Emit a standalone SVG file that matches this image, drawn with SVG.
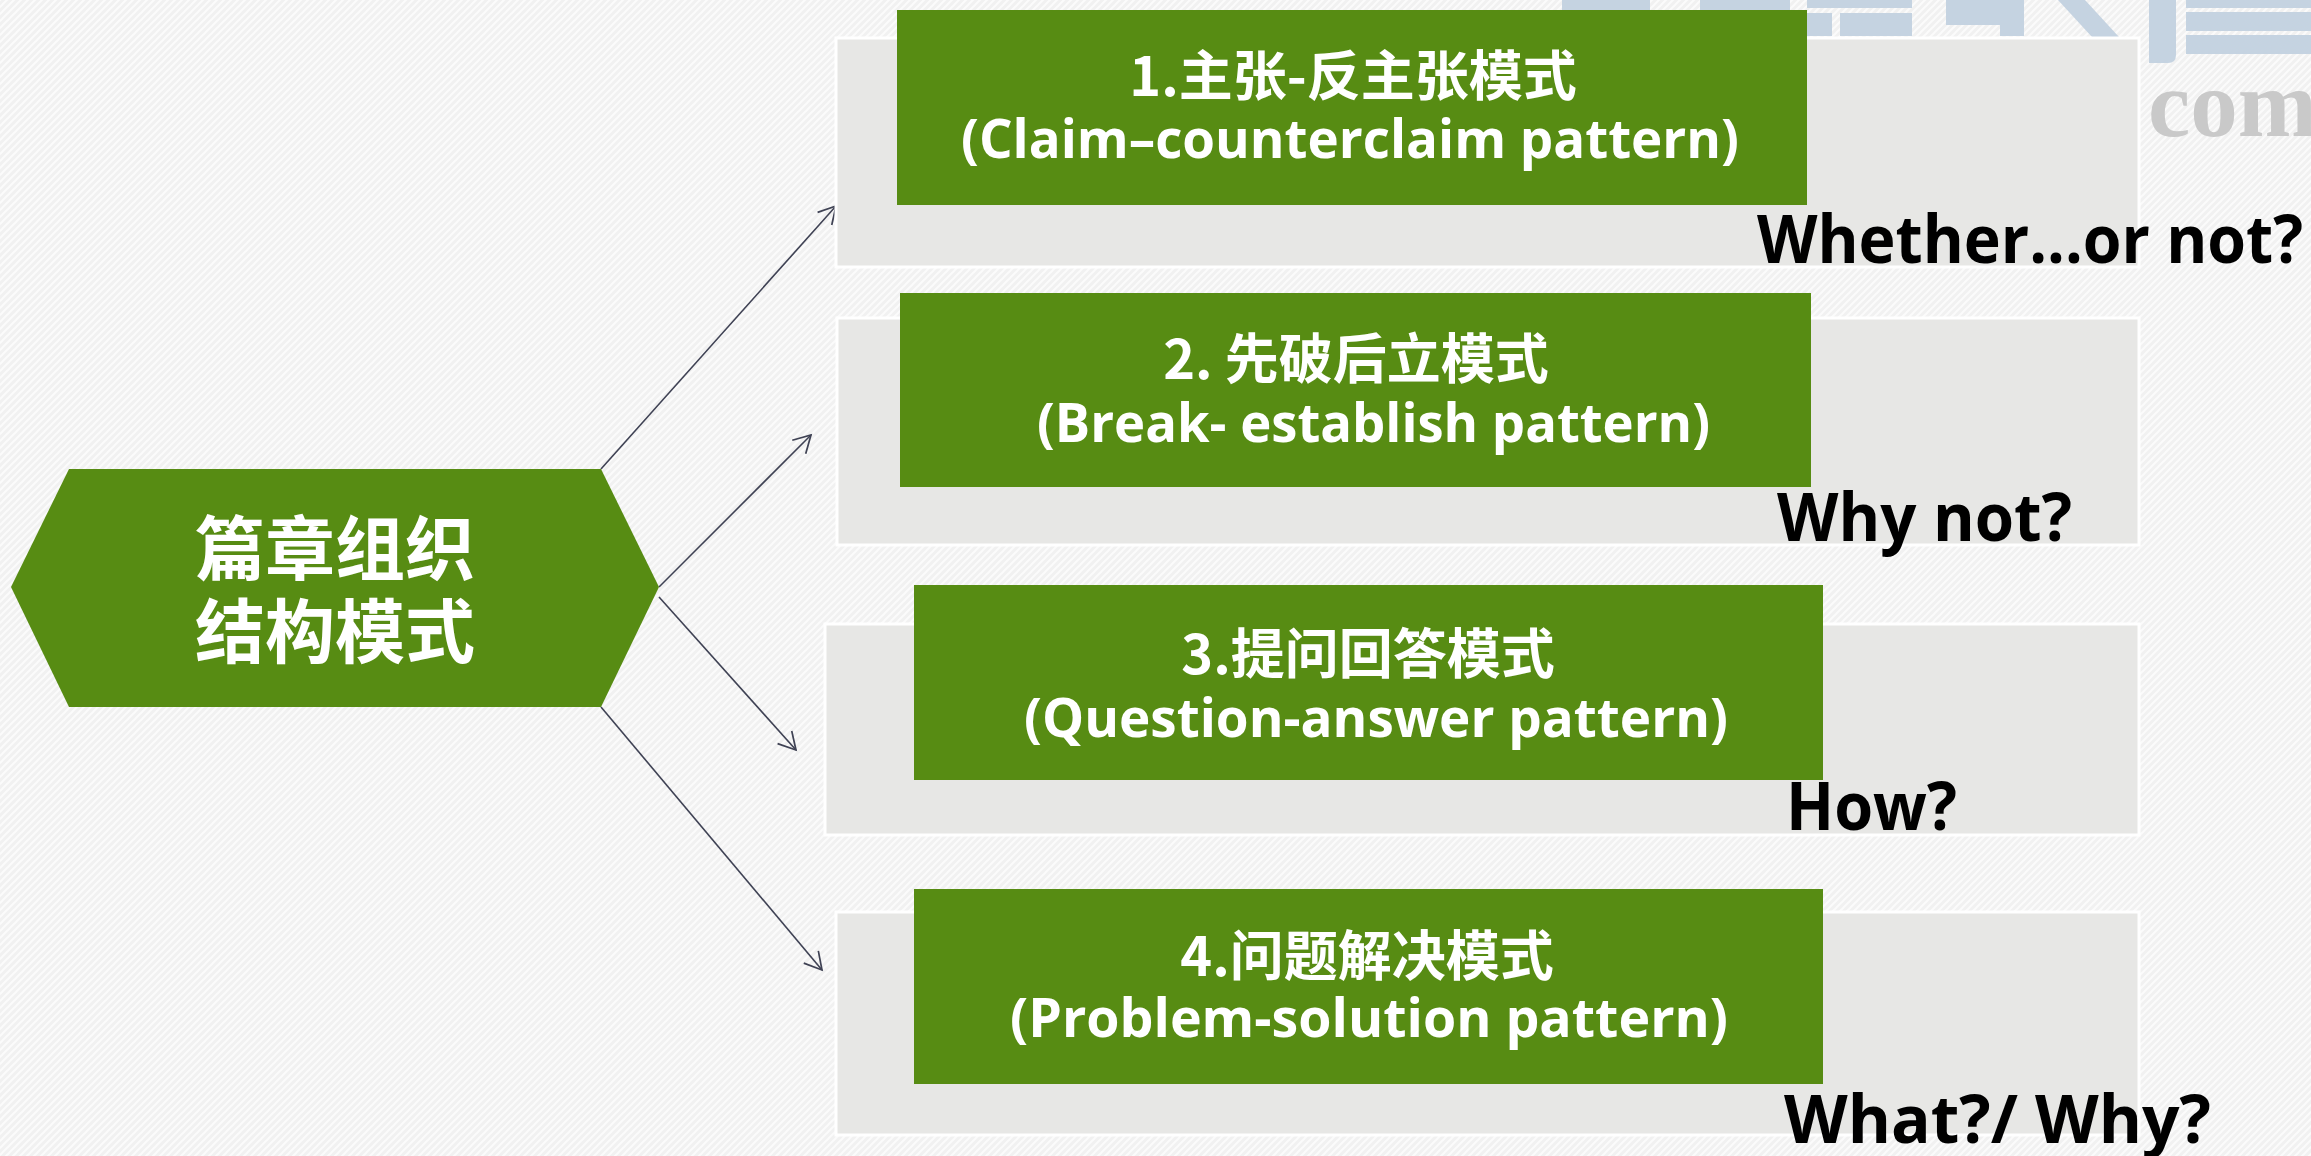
<svg xmlns="http://www.w3.org/2000/svg" width="2311" height="1156" viewBox="0 0 2311 1156">
  <defs>
    <pattern id="bgp" patternUnits="userSpaceOnUse" width="7" height="7">
      <rect width="7" height="7" fill="#f1f1f1"/>
      <path d="M-1,1 L1,-1 M0,7 L7,0 M6,8 L8,6" stroke="#fbfbfb" stroke-width="2.2"/>
    </pattern>
    <marker id="arr" markerUnits="userSpaceOnUse" markerWidth="30" markerHeight="30" viewBox="-22 -15 30 30" refX="0" refY="0" orient="auto" overflow="visible">
      <path d="M-17,-9.5 L0,0 L-17,9.5" fill="none" stroke="#3f4254" stroke-width="1.7"/>
    </marker>
    <style>
      .panel { fill: #e7e7e5; stroke: #ffffff; stroke-width: 3; }
      .green { fill: #578c13; }
      .cjk { font-family: "Noto Sans CJK SC", "Noto Sans", sans-serif; font-weight: 700; fill: #ffffff; }
      .lat { font-family: "Open Sans", "Noto Sans", sans-serif; font-weight: 700; fill: #ffffff; font-size: 54px; }
      .q { font-family: "Open Sans", "Noto Sans", sans-serif; font-weight: 700; fill: #000000; font-size: 66px; }
      .conn { fill: none; stroke: #3f4254; stroke-width: 1.6; marker-end: url(#arr); }
      .wm { fill: #c5d3e1; }
    </style>
  </defs>

  <rect x="0" y="0" width="2311" height="1156" fill="url(#bgp)"/>

  <g id="watermark">
    <path class="wm" d="M1562,0 H1650 V10 H1562 Z"/>
    <path class="wm" d="M1700,0 H1790 V10 H1700 Z"/>
    <path class="wm" d="M1807,0 H1912 V8 H1807 Z M1807,13 H1832 V36 H1807 Z M1840,13 H1912 V36 H1840 Z"/>
    <path class="wm" d="M1946,0 H2024 V25 H1946 Z M2000,25 H2024 V36 H2000 Z"/>
    <path class="wm" d="M2058,0 H2085 L2119,37 H2092 Z"/>
    <path class="wm" d="M2149,0 H2176 V55 Q2176,63 2168,63 H2149 Z"/>
    <path class="wm" d="M2186,0 H2311 V8 H2186 Z M2186,12 H2311 V31 H2186 Z M2186,35 H2311 V54 H2186 Z"/>
    <text x="2148" y="136" font-family="Liberation Serif, serif" font-weight="700" font-size="95" fill="#c9c9c9">com</text>
  </g>

  <g id="connectors">
    <line class="conn" x1="601" y1="469" x2="836" y2="206"/>
    <line class="conn" x1="659" y1="587" x2="811" y2="435"/>
    <line class="conn" x1="659" y1="597" x2="796" y2="750"/>
    <line class="conn" x1="601" y1="707" x2="822" y2="970"/>
  </g>

  <g id="root">
    <polygon class="green" points="11,587 69,469 601,469 659,587 601,707 69,707"/>
    <text class="cjk" x="335" y="575" font-size="70" text-anchor="middle">篇章组织</text>
    <text class="cjk" x="335" y="658" font-size="70" text-anchor="middle">结构模式</text>
  </g>

  <g id="p1">
    <rect class="panel" x="836" y="38" width="1303" height="229"/>
    <rect class="green" x="897" y="10" width="910" height="195"/>
    <text class="cjk" x="1353" y="96" font-size="54" text-anchor="middle">1.主张-反主张模式</text>
    <text class="lat" x="961" y="158" textLength="778" lengthAdjust="spacingAndGlyphs">(Claim–counterclaim pattern)</text>
    <text class="q" x="1757" y="263" textLength="546" lengthAdjust="spacingAndGlyphs">Whether...or not?</text>
  </g>

  <g id="p2">
    <rect class="panel" x="837" y="318" width="1302" height="227"/>
    <rect class="green" x="900" y="293" width="911" height="194"/>
    <text class="cjk" x="1356" y="379" font-size="54" text-anchor="middle">2. 先破后立模式</text>
    <text class="lat" x="1037" y="442" textLength="673" lengthAdjust="spacingAndGlyphs">(Break- establish pattern)</text>
    <text class="q" x="1777" y="541" textLength="295" lengthAdjust="spacingAndGlyphs">Why not?</text>
  </g>

  <g id="p3">
    <rect class="panel" x="825" y="624" width="1314" height="211"/>
    <rect class="green" x="914" y="585" width="909" height="195"/>
    <text class="cjk" x="1368" y="674" font-size="54" text-anchor="middle">3.提问回答模式</text>
    <text class="lat" x="1024" y="737" textLength="704" lengthAdjust="spacingAndGlyphs">(Question-answer pattern)</text>
    <text class="q" x="1786" y="830" textLength="171" lengthAdjust="spacingAndGlyphs">How?</text>
  </g>

  <g id="p4">
    <rect class="panel" x="836" y="912" width="1303" height="223"/>
    <rect class="green" x="914" y="889" width="909" height="195"/>
    <text class="cjk" x="1367" y="976" font-size="54" text-anchor="middle">4.问题解决模式</text>
    <text class="lat" x="1010" y="1037" textLength="718" lengthAdjust="spacingAndGlyphs">(Problem-solution pattern)</text>
    <text class="q" x="1784" y="1143" textLength="427" lengthAdjust="spacingAndGlyphs">What?/ Why?</text>
  </g>
</svg>
